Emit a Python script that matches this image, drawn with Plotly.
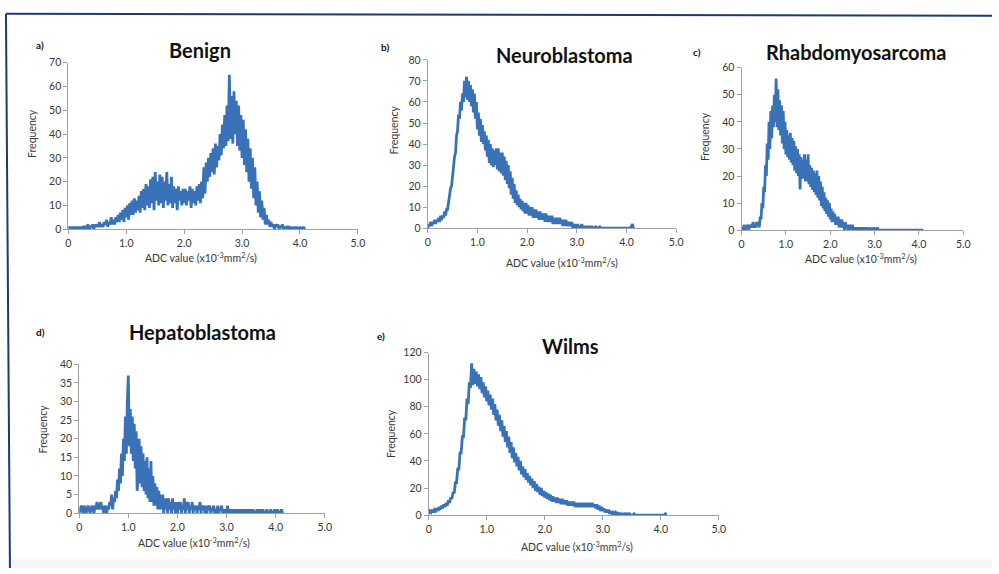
import numpy as np
import plotly.graph_objects as go

W, H = 999, 574
STEP = 0.02  # histogram bin width used for the hand-read values

# ---- data (frequency per ADC bin, starting at 0) ----
benign = [0,1,0,1,0,1,0,1,0,1, 0,1,0,1,1,0,1,2,0,1,
          1,2,0,2,1,2,1,3,1,2, 1,3,2,4,1,3,2,5,2,4,
          2,5,3,6,3,7,4,8,3,9, 5,10,4,11,6,12,6,13,7,12,
          8,14,7,16,9,17,8,19,10,18, 9,21,11,22,8,24,12,20,10,23,
          11,22,9,20,12,24,10,19,11,22, 9,18,11,17,8,18,12,16,10,17,
          11,17,10,16,12,18,9,17,11,16, 10,18,12,19,11,20,13,26,15,28,
          20,30,22,32,24,34,23,36,26,35, 29,40,31,44,34,48,35,52,37,65,
          38,56,36,58,40,54,35,52,33,48, 30,46,27,42,24,38,20,34,17,30,
          13,26,10,20,7,16,5,12,4,9, 2,6,2,4,1,3,1,2,0,2,
          1,2,0,1,1,2,0,1,0,1, 1,0,1,0,0,1,0,1,0,0,
          1,0,0,1,0,0]
neuro = [0,2,1,3,1,3,2,4,2,4, 3,5,3,6,4,6,5,8,6,9,
         9,13,14,19,20,26,28,34,36,44, 46,54,52,60,56,64,60,70,62,72,
         61,70,60,68,58,66,55,64,52,60, 47,55,44,52,41,49,40,46,37,44,
         34,42,31,40,30,38,29,37,30,38, 28,38,27,36,26,36,25,34,23,32,
         21,30,19,27,16,24,14,21,12,18, 11,16,10,14,9,13,8,12,7,12,
         7,11,6,10,6,10,5,9,5,9, 5,8,4,8,4,7,4,7,3,7,
         3,6,3,6,3,6,2,5,2,5, 2,5,2,5,2,4,1,4,1,4,
         1,3,1,3,1,3,0,2,0,2, 0,2,0,1,0,2,0,1,0,1,
         0,1,0,1,0,1,0,0,0,1, 0,0,0,1,0,0,0,0,0,0,
         0,0,0,0,0,0,0,0,0,0, 0,0,0,0,0,0,0,0,0,0,
         0,0,0,0,0,1,2,0]
rhabdo = [0,1,0,2,0,1,1,2,0,2, 1,2,1,3,1,2,1,3,2,3,
          1,5,4,10,8,16,14,24,20,32, 26,40,30,44,34,46,38,50,40,56,
          38,52,37,48,35,46,32,44,30,40, 28,37,27,35,26,36,25,34,24,33,
          22,31,21,30,20,28,15,27,19,26, 19,28,18,26,18,28,17,24,16,23,
          15,22,14,21,13,22,12,20,11,18, 9,16,8,14,7,12,6,11,5,10,
          4,8,3,7,3,6,2,5,2,5, 1,4,1,4,1,3,0,3,1,2,
          0,2,0,2,0,2,0,1,0,1, 0,1,0,1,0,1,0,1,0,1,
          0,1,0,0,0,1,0,0,0,1, 0,0,0,1,0,0,0,0,0,0,
          0,0,0,0,0,0,0,0,0,0, 0,0,0,0,0,0,0,0,0,0,
          0,0,0,0,0,0,0,0,0,0, 0,0,0,0,0,0,0,0,0,0,
          0,0,0,0,0,0]
hepato = [0,1,2,1,0,2,1,0,1,2, 1,0,1,2,1,0,2,1,3,2,
          1,2,3,1,2,0,2,1,0,2, 1,3,2,5,1,4,3,6,4,9,
          6,12,8,16,10,20,14,26,16,30, 37,18,28,16,26,14,24,12,22,6,
          10,20,8,18,7,16,6,14,5,15, 4,12,3,14,3,10,2,8,2,7,
          1,6,1,5,1,5,0,4,1,4, 0,4,1,3,0,4,1,3,0,3,
          0,3,1,3,0,2,1,4,0,3, 1,3,0,2,1,3,0,2,1,2,
          0,2,1,3,0,2,1,2,0,2, 0,2,1,2,0,1,1,2,0,1,
          0,2,0,1,1,2,0,1,0,1, 0,2,0,1,0,1,0,1,0,1,
          0,1,0,1,0,1,0,1,0,1, 0,1,0,1,0,1,0,1,0,0,
          0,1,0,0,1,0,0,1,0,0, 0,1,0,0,0,1,0,0,0,1,
          0,0,1,0,0,0,1,0]
wilms = [1,3,2,4,2,4,3,5,3,6, 4,7,5,8,6,9,7,11,9,13,
         12,17,16,24,24,34,34,46,46,58, 58,72,70,86,82,98,94,112,96,108,
         97,106,95,104,93,102,90,98,87,95, 84,92,81,89,78,86,74,82,70,78,
         66,74,62,70,58,66,54,62,50,58, 46,54,42,50,39,46,36,43,33,40,
         30,36,28,34,26,31,24,29,22,27, 20,25,18,23,17,21,15,20,14,18,
         13,17,12,16,11,15,10,14,10,13, 9,13,9,12,8,12,8,11,8,11,
         7,10,7,10,7,10,6,9,6,9, 6,9,6,9,6,9,6,9,6,9,
         6,9,6,8,5,8,4,7,3,6, 3,5,2,4,2,4,1,3,1,2,
         1,2,0,2,0,1,0,1,0,1, 0,1,0,1,0,0,0,1,0,0,
         0,0,0,0,0,0,0,0,0,0, 0,0,0,0,0,0,0,0,0,0,
         0,0,0,0,1,0]

titles = ["Benign", "Neuroblastoma", "Rhabdomyosarcoma", "Hepatoblastoma", "Wilms"]
letters = ["a)", "b)", "c)", "d)", "e)"]
series = [benign, neuro, rhabdo, hepato, wilms]
y_max = [70, 80, 60, 40, 120]
y_dtick = [10, 10, 10, 5, 20]
x_ticks = [0, 1, 2, 3, 4, 5]
x_ticktext = ["0", "1.0", "2.0", "3.0", "4.0", "5.0"]

# ---- layout in pixels (left, right, top, bottom of each plot area) ----
boxes = [(66, 358.5, 58, 228), (429, 680, 55, 227), (746, 970, 63, 229),
         (77, 325, 366, 518), (430, 723, 354, 520)]
title_pos = [(199, 45), (567, 50), (862, 47), (202, 333), (573, 347)]
letter_pos = [(37, 40), (386, 42), (701, 47), (38, 333), (382, 337)]
ylab_pos = [(30, 130), (395, 127), (709, 133), (40, 432), (392, 437)]
xlab_pos = [(200, 257), (565, 262), (867, 258), (193, 548), (580, 552)]

FONT = "Lato, 'Open Sans', sans-serif"
BLUE = "#3a72b8"
AX = "#a0a0a0"
TXT = "#383838"

def px(x):
    return x / W

def py(y):
    return 1 - y / H

fig = go.Figure()
annotations = []
for i, vals in enumerate(series):
    n = i + 1
    xs = np.round(np.arange(len(vals)) * STEP, 3)
    xa = "x" if n == 1 else f"x{n}"
    ya = "y" if n == 1 else f"y{n}"
    fig.add_trace(go.Scatter(x=xs, y=vals, mode="lines", xaxis=xa, yaxis=ya,
                             line=dict(color=BLUE, width=2.8), showlegend=False,
                             hoverinfo="skip"))
    l, r, t, b = boxes[i]
    common = dict(showline=True, linecolor=AX, linewidth=1, showgrid=False,
                  zeroline=False, ticks="outside", tickcolor=AX, ticklen=4,
                  tickfont=dict(family=FONT, size=10.5, color=TXT), fixedrange=True)
    fig.layout[f"xaxis{'' if n == 1 else n}"] = dict(
        domain=[px(l), px(r)], range=[0, 5], anchor=ya,
        tickvals=x_ticks, ticktext=x_ticktext, **common)
    fig.layout[f"yaxis{'' if n == 1 else n}"] = dict(
        domain=[py(b), py(t)], range=[0, y_max[i]], anchor=xa,
        dtick=y_dtick[i], tick0=0, **common)

    tx, ty = title_pos[i]
    annotations.append(dict(text=f"<b>{titles[i]}</b>", x=px(tx), y=py(ty),
                            xref="paper", yref="paper", showarrow=False,
                            xanchor="center", yanchor="middle",
                            font=dict(family=FONT, size=20, color="#111111")))
    lx, ly = letter_pos[i]
    annotations.append(dict(text=f"<b>{letters[i]}</b>", x=px(lx), y=py(ly),
                            xref="paper", yref="paper", showarrow=False,
                            xanchor="center", yanchor="middle",
                            font=dict(family=FONT, size=10, color="#111111")))
    fx, fy = ylab_pos[i]
    annotations.append(dict(text="Frequency", x=px(fx), y=py(fy), textangle=-90,
                            xref="paper", yref="paper", showarrow=False,
                            xanchor="center", yanchor="middle",
                            font=dict(family=FONT, size=10.5, color=TXT)))
    ax_, ay_ = xlab_pos[i]
    annotations.append(dict(text="ADC value (x10<sup>-3</sup>mm<sup>2</sup>/s)",
                            x=px(ax_), y=py(ay_),
                            xref="paper", yref="paper", showarrow=False,
                            xanchor="center", yanchor="middle",
                            font=dict(family=FONT, size=10.5, color=TXT)))

shapes = [
    dict(type="line", xref="paper", yref="paper", x0=px(3), y0=py(8), x1=px(999), y1=py(10),
         line=dict(color="#1f3a6e", width=2)),
    dict(type="line", xref="paper", yref="paper", x0=px(3), y0=py(8), x1=px(7), y1=py(574),
         line=dict(color="#1f3a6e", width=2)),
    dict(type="rect", xref="paper", yref="paper", x0=px(8), y0=py(574), x1=px(999), y1=py(565),
         fillcolor="#f3f7fa", line=dict(width=0), layer="below"),
]

fig.update_layout(width=W, height=H, margin=dict(l=0, r=0, t=0, b=0),
                  paper_bgcolor="white", plot_bgcolor="white",
                  annotations=annotations, shapes=shapes, showlegend=False)

fig.write_html("out.html")
